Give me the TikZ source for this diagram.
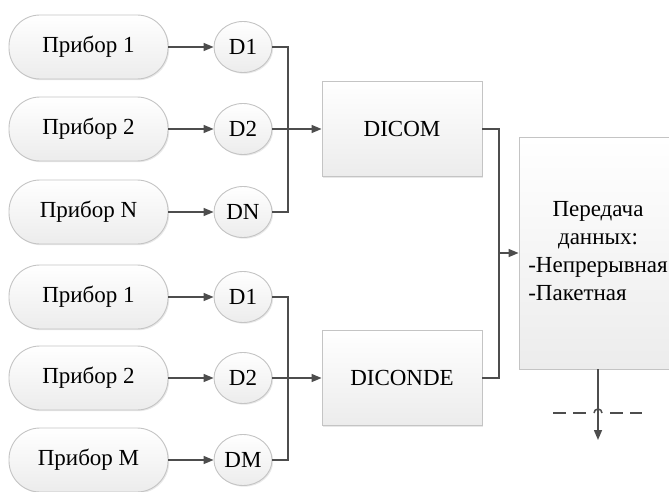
\documentclass[tikz,border=0pt]{standalone}
\usepackage{fontspec}
\setmainfont{Liberation Serif}
\usetikzlibrary{shapes.geometric,shadows,arrows.meta}
\definecolor{linec}{HTML}{4D4D4D}
\definecolor{borderc}{HTML}{C4C4C4}
\definecolor{fillc}{HTML}{ECECEC}
\tikzset{
  conn/.style={draw=linec, line width=1.5pt},
  arr/.style={conn, -{Triangle[length=10pt,width=8pt]}},
  dashln/.style={conn, dash pattern=on 13pt off 7pt},
  shapebase/.style={draw=borderc, line width=0.9pt, top color=white, bottom color=fillc,
    drop shadow={opacity=0.18, shadow xshift=1.2pt, shadow yshift=-1.2pt},
    font=\fontsize{23}{28}\selectfont, inner sep=0pt, text=black},
  pill/.style={shapebase, rectangle, rounded corners=31pt, minimum width=159pt, minimum height=64pt},
  dnode/.style={shapebase, ellipse, minimum width=58pt, minimum height=51pt},
  block/.style={shapebase, rectangle, minimum width=160pt, minimum height=95pt},
  bigblock/.style={shapebase, rectangle, minimum width=158pt, minimum height=232pt},
}
\begin{document}
\begin{tikzpicture}[x=1pt,y=-1pt]
\useasboundingbox (0,0) rectangle (669,492);
% top group
\node[pill] (p1) at (88.5,47) {Прибор 1};
\node[pill] (p2) at (88.5,129) {Прибор 2};
\node[pill] (pn) at (88.5,212) {Прибор N};
\node[dnode] (d1) at (243,47) {D1};
\node[dnode] (d2) at (243,129) {D2};
\node[dnode] (dn) at (243,212) {DN};
\node[block] (dicom) at (402,129) {DICOM};
% bottom group
\node[pill] (q1) at (88.5,297) {Прибор 1};
\node[pill] (q2) at (88.5,378) {Прибор 2};
\node[pill] (qm) at (88.5,460) {Прибор M};
\node[dnode] (e1) at (243,297) {D1};
\node[dnode] (e2) at (243,378) {D2};
\node[dnode] (em) at (243,460) {DM};
\node[block] (diconde) at (402,378) {DICONDE};
% transfer block
\node[bigblock] (big) at (598,253) {\begin{tabular}{@{}l@{}}\multicolumn{1}{@{}c@{}}{Передача}\\ \multicolumn{1}{@{}c@{}}{данных:}\\ -Непрерывная\\ -Пакетная\end{tabular}};
% junction coordinates
\coordinate (jt) at (288,129);
\coordinate (jb) at (288,378);
\coordinate (jm) at (499,253);
\coordinate (bot) at (598,440);
\coordinate (dl) at (553,413);
\coordinate (dl2) at (587,413);
\coordinate (hl) at (594,413);
\coordinate (dr2) at (610,413);
\coordinate (dr) at (642,413);
% connectors top
\draw[arr] (p1) -- (d1);
\draw[arr] (p2) -- (d2);
\draw[arr] (pn) -- (dn);
\draw[conn] (d1.east) -| (jt);
\draw[conn] (dn.east) -| (jt);
\draw[arr] (d2) -- (dicom);
% connectors bottom
\draw[arr] (q1) -- (e1);
\draw[arr] (q2) -- (e2);
\draw[arr] (qm) -- (em);
\draw[conn] (e1.east) -| (jb);
\draw[conn] (em.east) -| (jb);
\draw[arr] (e2) -- (diconde);
% to transfer block
\draw[conn] (dicom.east) -| (jm);
\draw[conn] (diconde.east) -| (jm);
\draw[arr] (jm) -- (big.west);
% output
\draw[arr] (big.south) -- (bot);
\draw[dashln] (dl) -- (dl2);
\draw[conn] (hl) arc[start angle=180, end angle=0, radius=4pt];
\draw[dashln] (dr2) -- (dr);
\end{tikzpicture}
\end{document}
